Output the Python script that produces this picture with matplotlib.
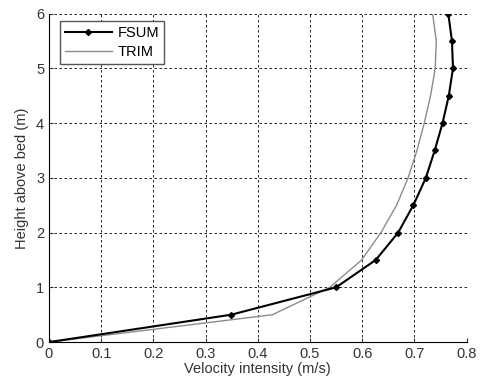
import matplotlib.pyplot as plt
import numpy as np

plt.rcParams['font.family'] = ['Liberation Sans', 'DejaVu Sans']

# velocity profiles against height above the bed
height = [0, 0.5, 1, 1.5, 2, 2.5, 3, 3.5, 4, 4.5, 5, 5.5, 6]
fsum = [0, 0.349, 0.550, 0.626, 0.669, 0.698, 0.722, 0.739, 0.754, 0.766, 0.774, 0.772, 0.765]
trim = [0, 0.428, 0.538, 0.599, 0.636, 0.666, 0.688, 0.705, 0.719, 0.731, 0.740, 0.742, 0.735]

fig = plt.figure(figsize=(4.8, 3.87), dpi=100)
ax = fig.add_axes([0.102, 0.116, 0.870, 0.849])

ax.plot(fsum, height, color='black', lw=1.5, marker='D', ms=3, label='FSUM', zorder=3)
ax.plot(trim, height, color='#8c8c8c', lw=1.0, label='TRIM', zorder=2)

ax.set_xlim(0, 0.8)
ax.set_ylim(0, 6)
ax.set_xticks(np.arange(0, 0.81, 0.1))
ax.set_xticklabels(['0', '0.1', '0.2', '0.3', '0.4', '0.5', '0.6', '0.7', '0.8'])
ax.set_yticks(range(7))
ax.grid(True, color='black', linestyle=(0, (3, 3)), linewidth=0.6)
ax.spines['top'].set_visible(False)
ax.spines['right'].set_visible(False)
ax.tick_params(direction='in', labelsize=10.5, colors='#333333', length=3)
ax.set_xlabel('Velocity intensity (m/s)', fontsize=10.5, color='#333333', labelpad=1)
ax.set_ylabel('Height above bed (m)', fontsize=10.5, color='#333333', labelpad=5)

leg = ax.legend(loc='upper left', fancybox=False, framealpha=1, edgecolor='#555555',
                fontsize=10.5, handlelength=3.2, handletextpad=0.4, borderpad=0.35,
                labelspacing=0.35, borderaxespad=0, bbox_to_anchor=(0.026, 0.978))
leg.get_frame().set_linewidth(1.0)

fig.savefig('out.png')
